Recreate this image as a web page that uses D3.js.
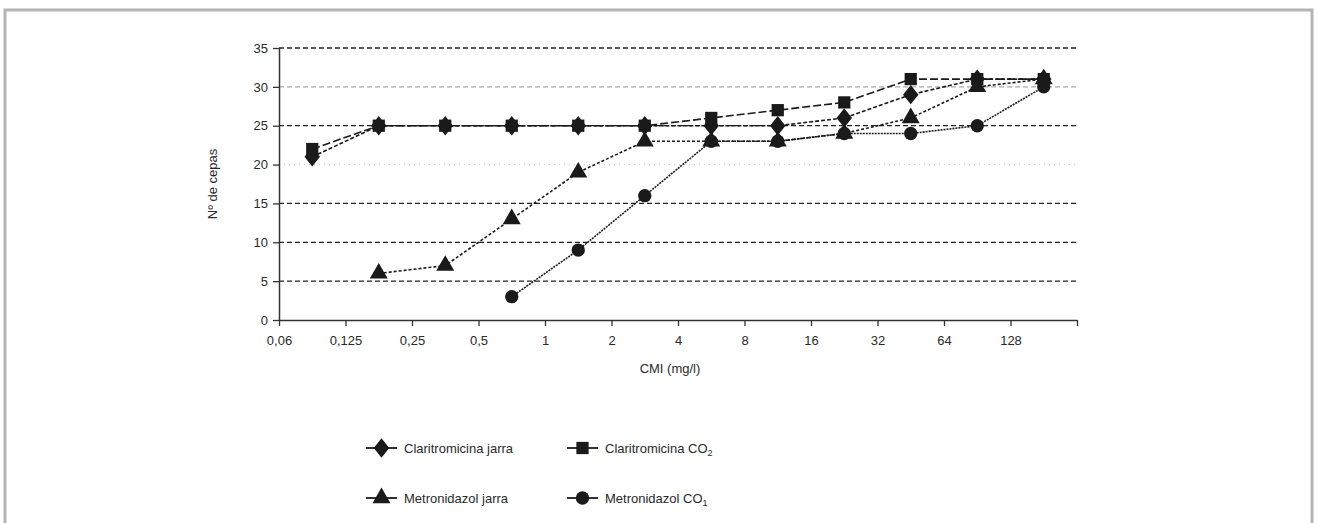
<!DOCTYPE html>
<html>
<head>
<meta charset="utf-8">
<script src="https://cdn.jsdelivr.net/npm/d3@7"></script>
<style>
  body { margin: 0; background: #fff; }
  text { font-family: "Liberation Sans", Arial, sans-serif; fill: #2a2a2a; }
</style>
</head>
<body>
<div id="chart"></div>
<script>
var svgWidth = 1318;
var svgHeight = 523;

// data
var categories = ["0,06", "0,125", "0,25", "0,5", "1", "2", "4", "8", "16", "32", "64", "128"];
var clarJarra = [21, 25, 25, 25, 25, 25, 25, 25, 26, 29, 31, 31];
var clarCO2 = [22, 25, 25, 25, 25, 25, 26, 27, 28, 31, 31, 31];
var metroJarra = [null, 6, 7, 13, 19, 23, 23, 23, 24, 26, 30, 31];
var metroCO2 = [null, null, null, 3, 9, 16, 23, 23, 24, 24, 25, 30];
var yTicks = [0, 5, 10, 15, 20, 25, 30, 35];

// wider diamond than d3's default
var wideDiamond = {
  draw: function(context, size) {
    var h = Math.sqrt(size / 1.6) * 1.0;
    var w = h * 0.8;
    context.moveTo(0, -h);
    context.lineTo(w, 0);
    context.lineTo(0, h);
    context.lineTo(-w, 0);
    context.closePath();
  }
};

var series = [
  { name: "Claritromicina jarra", sub: null, values: clarJarra, symbol: wideDiamond, size: 150, dash: "4,2", legend: [0, 0] },
  { name: "Claritromicina CO", sub: "2", values: clarCO2, symbol: d3.symbolSquare, size: 150, dash: "8,3", legend: [1, 0] },
  { name: "Metronidazol jarra", sub: null, values: metroJarra, symbol: d3.symbolTriangle, size: 140, dash: "3,2", legend: [0, 1] },
  { name: "Metronidazol CO", sub: "1", values: metroCO2, symbol: d3.symbolCircle, size: 140, dash: "2,1", legend: [1, 1] }
];

var plot = { left: 279, right: 1077, top: 48, bottom: 320 };

var svg = d3.select("#chart")
  .append("svg")
  .attr("width", svgWidth)
  .attr("height", svgHeight);

// outer frame
svg.append("rect")
  .attr("x", 5)
  .attr("y", 10)
  .attr("width", 1307)
  .attr("height", 530)
  .attr("fill", "none")
  .attr("stroke", "#b4b4b4")
  .attr("stroke-width", 3);

var xScale = d3.scaleLinear()
  .domain([0, categories.length])
  .range([plot.left, plot.right]);

var yScale = d3.scaleLinear()
  .domain([0, 35])
  .range([plot.bottom, plot.top]);

// gridlines
var gridStyle = {
  35: { stroke: "#222", dash: "5,3" },
  30: { stroke: "#aaa", dash: "5,3" },
  25: { stroke: "#222", dash: "5,3" },
  20: { stroke: "#ccc", dash: "1,4" },
  15: { stroke: "#222", dash: "5,3" },
  10: { stroke: "#222", dash: "5,3" },
  5: { stroke: "#222", dash: "5,3" }
};

svg.append("g")
  .selectAll("line")
  .data(yTicks.filter(d => d > 0))
  .enter()
  .append("line")
  .attr("x1", plot.left)
  .attr("x2", plot.right)
  .attr("y1", d => yScale(d))
  .attr("y2", d => yScale(d))
  .attr("stroke", d => gridStyle[d].stroke)
  .attr("stroke-width", 1.3)
  .attr("stroke-dasharray", d => gridStyle[d].dash);

// y axis
var leftAxis = d3.axisLeft(yScale)
  .tickValues(yTicks)
  .tickSize(6)
  .tickSizeOuter(0)
  .tickPadding(5);

var yAxis = svg.append("g")
  .attr("transform", `translate(${plot.left}, 0)`)
  .call(leftAxis);

yAxis.select(".domain").attr("stroke", "#333").attr("stroke-width", 1.5);
yAxis.selectAll(".tick line").attr("stroke", "#333").attr("stroke-width", 1.3);
yAxis.selectAll("text")
  .style("font-size", "13px")
  .style("font-family", "'Liberation Sans', Arial, sans-serif")
  .attr("fill", "#333");

// x axis: ticks at the band edges, labels under the ticks
var bottomAxis = d3.axisBottom(xScale)
  .tickValues(d3.range(categories.length + 1))
  .tickFormat(i => categories[i] || "")
  .tickSize(6)
  .tickSizeOuter(0)
  .tickPadding(10);

var xAxis = svg.append("g")
  .attr("transform", `translate(0, ${plot.bottom})`)
  .call(bottomAxis);

xAxis.select(".domain").attr("stroke", "#333").attr("stroke-width", 1.5);
xAxis.selectAll(".tick line").attr("stroke", "#333").attr("stroke-width", 1.3);
xAxis.selectAll("text")
  .style("font-size", "13px")
  .style("font-family", "'Liberation Sans', Arial, sans-serif")
  .attr("fill", "#333");

// axis titles
svg.append("text")
  .attr("transform", `translate(217, ${(plot.top + plot.bottom) / 2}) rotate(-90)`)
  .attr("text-anchor", "middle")
  .style("font-size", "13px")
  .text("Nº de cepas");

svg.append("text")
  .attr("x", 670)
  .attr("y", 373)
  .attr("text-anchor", "middle")
  .style("font-size", "13px")
  .text("CMI (mg/l)");

// series lines and markers
var line = d3.line()
  .defined(d => d != null)
  .x((d, i) => xScale(i + 0.5))
  .y(d => yScale(d));

series.forEach(function(s) {
  var g = svg.append("g");

  g.append("path")
    .attr("d", line(s.values))
    .attr("fill", "none")
    .attr("stroke", "#1a1a1a")
    .attr("stroke-width", 1.6)
    .attr("stroke-dasharray", s.dash);

  g.selectAll("path.mark")
    .data(s.values.map((v, i) => ({ v: v, i: i })).filter(d => d.v != null))
    .enter()
    .append("path")
    .attr("class", "mark")
    .attr("d", d3.symbol().type(s.symbol).size(s.size))
    .attr("transform", d => `translate(${xScale(d.i + 0.5)}, ${yScale(d.v)})`)
    .attr("fill", "#1a1a1a");
});

// legend
var legendCols = [366, 567];
var legendRows = [448, 498];

series.forEach(function(s) {
  var lx = legendCols[s.legend[0]];
  var ly = legendRows[s.legend[1]];
  var g = svg.append("g").attr("transform", `translate(${lx}, ${ly})`);

  g.append("line")
    .attr("x1", 0)
    .attr("x2", 31)
    .attr("stroke", "#1a1a1a")
    .attr("stroke-width", 1.8);

  g.append("path")
    .attr("d", d3.symbol().type(s.symbol).size(s.size))
    .attr("transform", "translate(15.5, 0)")
    .attr("fill", "#1a1a1a");

  var t = g.append("text")
    .attr("x", 38)
    .attr("y", 4.5)
    .style("font-size", "13px")
    .text(s.name);

  if (s.sub) {
    t.append("tspan")
      .attr("dy", 3)
      .style("font-size", "9px")
      .text(s.sub);
  }
});
</script>
</body>
</html>
